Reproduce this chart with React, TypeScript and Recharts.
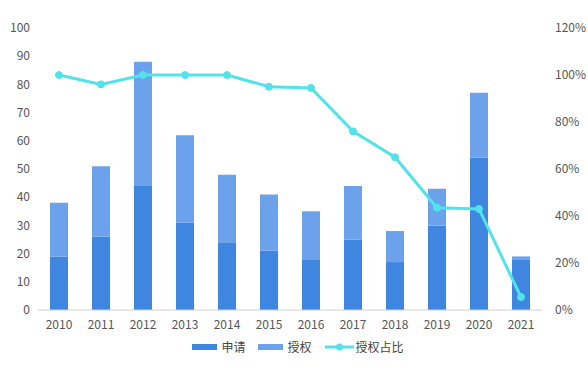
import { ComposedChart, Bar, Line, XAxis, YAxis } from 'recharts';

const years = ['2010', '2011', '2012', '2013', '2014', '2015', '2016', '2017', '2018', '2019', '2020', '2021'];
const applied = [19, 26, 44, 31, 24, 21, 18, 25, 17, 30, 54, 18];
const granted = [19, 25, 44, 31, 24, 20, 17, 19, 11, 13, 23, 1];
const grantRatio = [100, 96, 100, 100, 100, 95, 94.5, 76, 65, 43.5, 43, 5.5];

const leftTicks = [0, 10, 20, 30, 40, 50, 60, 70, 80, 90, 100];
const rightTicks = [0, 20, 40, 60, 80, 100, 120];

const DARK = '#3F86E1';
const LIGHT = '#6CA2EC';
const CYAN = '#52E3EA';
const FONT = '"Noto Sans CJK SC", "Noto Sans", sans-serif';

const data = years.map((y, i) => ({
  year: y,
  申请: applied[i],
  授权: granted[i],
  授权占比: grantRatio[i],
}));

const tickStyle = { fill: '#555', fontSize: 12, fontFamily: FONT };

export default function App() {
  return (
    <div style={{ position: 'fixed', left: 0, top: 0, width: 588, height: 375, background: '#fff' }}>
      <ComposedChart width={588} height={375} data={data} margin={{ top: 28, right: 0, left: 0, bottom: 35 }}>
        <XAxis
          dataKey="year"
          height={30}
          tick={tickStyle}
          tickLine={false}
          axisLine={{ stroke: '#d0d0d0' }}
          tickMargin={4}
        />
        <YAxis
          yAxisId="left"
          width={38}
          domain={[0, 100]}
          ticks={leftTicks}
          tick={tickStyle}
          tickLine={false}
          axisLine={false}
          interval={0}
        />
        <YAxis
          yAxisId="right"
          orientation="right"
          width={46}
          domain={[0, 120]}
          ticks={rightTicks}
          tick={{ ...tickStyle, textAnchor: 'start' }}
          tickFormatter={(v) => `${v}%`}
          tickLine={false}
          axisLine={false}
          tickMargin={7}
          interval={0}
        />
        <Bar yAxisId="left" dataKey="申请" stackId="a" fill={DARK} barSize={18} isAnimationActive={false} />
        <Bar yAxisId="left" dataKey="授权" stackId="a" fill={LIGHT} barSize={18} isAnimationActive={false} />
        <Line
          yAxisId="right"
          dataKey="授权占比"
          stroke={CYAN}
          strokeWidth={3}
          dot={{ r: 3.5, fill: CYAN, stroke: CYAN, strokeWidth: 1 }}
          isAnimationActive={false}
        />
      </ComposedChart>
      <div
        style={{
          position: 'absolute',
          top: 338,
          left: 0,
          width: 588,
          display: 'flex',
          justifyContent: 'center',
          alignItems: 'center',
          fontFamily: FONT,
          fontSize: 12,
          color: '#444',
          gap: 13,
          paddingLeft: 8,
          boxSizing: 'border-box',
        }}
      >
        <span style={{ display: 'flex', alignItems: 'center' }}>
          <span style={{ display: 'inline-block', width: 25, height: 6, background: DARK, marginRight: 4 }} />
          申请
        </span>
        <span style={{ display: 'flex', alignItems: 'center' }}>
          <span style={{ display: 'inline-block', width: 25, height: 6, background: LIGHT, marginRight: 4 }} />
          授权
        </span>
        <span style={{ display: 'flex', alignItems: 'center' }}>
          <svg width={29} height={10} style={{ marginRight: 2 }}>
            <line x1={0} y1={5} x2={29} y2={5} stroke={CYAN} strokeWidth={3} />
            <circle cx={14.5} cy={5} r={3.5} fill={CYAN} />
          </svg>
          授权占比
        </span>
      </div>
    </div>
  );
}
